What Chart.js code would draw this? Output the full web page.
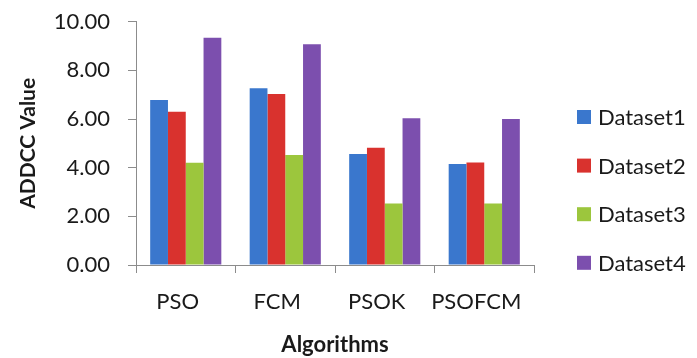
<!DOCTYPE html>
<html>
<head>
<meta charset="utf-8">
<script src="https://cdn.jsdelivr.net/npm/chart.js@4/dist/chart.umd.min.js"></script>
<style>
html,body{margin:0;padding:0;background:#fff;}
#wrap{position:relative;width:697px;height:358px;}
</style>
</head>
<body>
<div id="wrap"><canvas id="c" width="697" height="358"></canvas></div>
<script>
const categories = ["PSO", "FCM", "PSOK", "PSOFCM"];
const dataset1 = [6.78, 7.26, 4.56, 4.15];
const dataset2 = [6.30, 7.03, 4.82, 4.21];
const dataset3 = [4.20, 4.52, 2.53, 2.53];
const dataset4 = [9.34, 9.07, 6.03, 6.00];
const seriesNames = ["Dataset1", "Dataset2", "Dataset3", "Dataset4"];
const yTicks = [0, 2, 4, 6, 8, 10];

const colors = ["#3A77CD", "#D9322E", "#9CC63D", "#7C4FAE"];
const FONT = "Lato";
const TEXT = "#1a1a1a";

const customLegend = {
  id: "customLegend",
  afterDraw(chart) {
    const ctx = chart.ctx;
    ctx.save();
    ctx.font = "22px " + FONT;
    ctx.textBaseline = "middle";
    ctx.textAlign = "left";
    const x0 = 577, y0 = 117, step = 48.6, box = 14;
    chart.data.datasets.forEach((ds, i) => {
      const yc = y0 + i * step;
      ctx.fillStyle = ds.backgroundColor;
      ctx.fillRect(x0, yc - box / 2, box, box);
      ctx.fillStyle = TEXT;
      ctx.fillText(ds.label, x0 + box + 7, yc + 1);
    });
    ctx.restore();
  }
};

new Chart(document.getElementById("c"), {
  type: "bar",
  data: {
    labels: categories,
    datasets: [dataset1, dataset2, dataset3, dataset4].map((d, i) => ({
      label: seriesNames[i],
      data: d,
      backgroundColor: colors[i],
      borderWidth: 0,
      barPercentage: 1.0,
      categoryPercentage: 0.715
    }))
  },
  plugins: [customLegend],
  options: {
    responsive: false,
    animation: false,
    devicePixelRatio: 1,
    layout: { padding: { left: 12, right: 163, top: 0, bottom: 0 } },
    plugins: {
      legend: { display: false },
      tooltip: { enabled: false }
    },
    scales: {
      x: {
        afterFit: (s) => { s.height = 93; s.paddingLeft = 0; s.paddingRight = 0; },
        grid: {
          display: true,
          offset: true,
          drawOnChartArea: false,
          drawTicks: true,
          tickLength: 8,
          color: "#8c8c8c"
        },
        border: { display: true, color: "#8c8c8c", width: 1 },
        ticks: {
          color: TEXT,
          font: { family: FONT, size: 22 },
          padding: 16,
          labelOffset: -8,
          maxRotation: 0,
          minRotation: 0,
          autoSkip: false
        },
        title: {
          display: true,
          text: "Algorithms",
          color: TEXT,
          font: { family: FONT, size: 22, weight: "bold" },
          padding: { top: 4, bottom: 0 }
        }
      },
      y: {
        min: 0,
        max: 10,
        afterBuildTicks: (axis) => { axis.ticks = yTicks.map(v => ({ value: v })); },
        afterFit: (s) => { s.width = 124; s.paddingTop = 21.7; s.paddingBottom = 0; },
        grid: {
          display: true,
          drawOnChartArea: false,
          drawTicks: true,
          tickLength: 8,
          color: "#8c8c8c"
        },
        border: { display: true, color: "#8c8c8c", width: 1 },
        ticks: {
          color: TEXT,
          font: { family: FONT, size: 22 },
          padding: 18,
          callback: (v) => Number(v).toFixed(2)
        },
        title: {
          display: true,
          text: "ADDCC Value",
          color: TEXT,
          font: { family: FONT, size: 21, weight: "bold" },
          padding: { top: 4, bottom: 4 }
        }
      }
    }
  }
});
</script>
</body>
</html>
